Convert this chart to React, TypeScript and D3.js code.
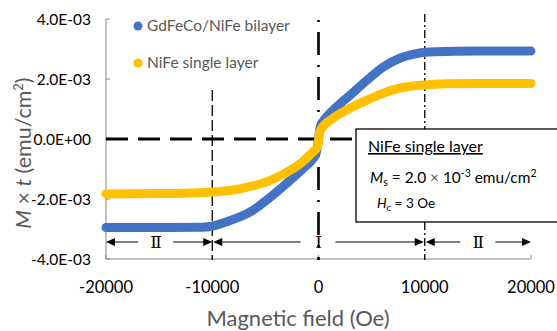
import React from "react";
import * as d3 from "d3";

// hysteresis curves, M x t in units of 1e-3 emu/cm2
const blueField = [-20000, -15000, -11000, -10000, -9000, -7700, -6100, -4600, -3000, -1400, -500, -200, 0, 200, 500, 1400, 3000, 4600, 6100, 7700, 9000, 10000, 11000, 15000, 20000];
const blueM = [-2.95, -2.95, -2.94, -2.91, -2.8, -2.64, -2.36, -1.96, -1.48, -0.97, -0.65, -0.45, 0, 0.45, 0.62, 0.97, 1.47, 1.97, 2.4, 2.7, 2.83, 2.89, 2.91, 2.93, 2.93];

const yellowField = [-20000, -15000, -12000, -10000, -8000, -6400, -4800, -3300, -1700, -500, -100, 100, 200, 1400, 3000, 4600, 6100, 7700, 9900, 12000, 15000, 20000];
const yellowM = [-1.83, -1.82, -1.8, -1.77, -1.7, -1.58, -1.42, -1.17, -0.82, -0.42, -0.27, 0.2, 0.3, 0.7, 1.03, 1.3, 1.53, 1.7, 1.8, 1.84, 1.85, 1.85];

const yTicks = [-4e-3, -2e-3, 0, 2e-3, 4e-3];
const yTickLabels = ["-4.0E-03", "-2.0E-03", "0.0E+00", "2.0E-03", "4.0E-03"];
const xTicks = [-20000, -10000, 0, 10000, 20000];

const regions = [
  { from: -20000, to: -10000, label: "Ⅱ" },
  { from: -10000, to: 10000, label: "Ⅰ" },
  { from: 10000, to: 20000, label: "Ⅱ" },
];

const series = [
  { name: "GdFeCo/NiFe bilayer", color: "#4472C4", field: blueField, m: blueM },
  { name: "NiFe single layer", color: "#FFC000", field: yellowField, m: yellowM },
];

const FONT = "Lato, 'Open Sans', sans-serif";

export default function App() {
  const W = 557, H = 331;
  const x = d3.scaleLinear().domain([-20000, 20000]).range([106, 531]);
  const y = d3.scaleLinear().domain([-4e-3, 4e-3]).range([259, 19]);

  const line = d3
    .line<[number, number]>()
    .x((d) => x(d[0]))
    .y((d) => y(d[1] * 1e-3))
    .curve(d3.curveMonotoneX);

  const arrowY = 242;
  const head = (tipX: number, dir: number) =>
    `M${tipX},${arrowY} L${tipX + dir * 9},${arrowY - 4} L${tipX + dir * 9},${arrowY + 4} Z`;

  return (
    <svg width={W} height={H} style={{ position: "fixed", left: 0, top: 0, background: "#fff" }} fontFamily={FONT}>
      {/* axes */}
      <line x1={106} x2={106} y1={19} y2={259} stroke="#868686" strokeWidth={1} />
      <line x1={106} x2={531} y1={259} y2={259} stroke="#868686" strokeWidth={1} />
      {yTicks.map((t) => (
        <line key={"yt" + t} x1={106} x2={110} y1={y(t)} y2={y(t)} stroke="#868686" />
      ))}
      {xTicks.map((t) => (
        <line key={"xt" + t} x1={x(t)} x2={x(t)} y1={259} y2={255} stroke="#868686" />
      ))}
      {yTicks.map((t, i) => (
        <text key={"yl" + t} x={91} y={y(t)} dy="0.36em" textAnchor="end" fontSize={15.5} fill="#000">
          {yTickLabels[i]}
        </text>
      ))}
      {xTicks.map((t) => (
        <text key={"xl" + t} x={x(t)} y={293} textAnchor="middle" fontSize={16.5} fill="#000">
          {t}
        </text>
      ))}
      <text x={298} y={326} textAnchor="middle" fontSize={22} fill="#595959">
        Magnetic field (Oe)
      </text>
      <text transform="translate(31,153) rotate(-90)" textAnchor="middle" fontSize={21.5} fill="#595959">
        <tspan fontStyle="italic">M</tspan>
        <tspan> × </tspan>
        <tspan fontStyle="italic">t</tspan>
        <tspan> (emu/cm</tspan>
        <tspan fontSize={13} dy={-8}>2</tspan>
        <tspan dy={8}>)</tspan>
      </text>

      {/* guide lines */}
      <line x1={x(-10000)} x2={x(-10000)} y1={90} y2={260} stroke="#000" strokeWidth={1.3} strokeDasharray="11,4" />
      <line x1={x(10000)} x2={x(10000)} y1={14} y2={260} stroke="#000" strokeWidth={1.3} strokeDasharray="8,3,2,3" />
      <line x1={x(0)} x2={x(0)} y1={20} y2={260} stroke="#000" strokeWidth={2.6} strokeDasharray="2,10,23,10" />
      <line x1={106} x2={360} y1={y(0)} y2={y(0)} stroke="#000" strokeWidth={3} strokeDasharray="22,10" />

      {/* curves */}
      {series.map((s) => (
        <path
          key={s.name}
          d={line(s.field.map((f, i) => [f, s.m[i]] as [number, number])) || ""}
          fill="none"
          stroke={s.color}
          strokeWidth={9}
          strokeLinecap="round"
          strokeLinejoin="round"
        />
      ))}

      {/* legend */}
      {series.map((s, i) => (
        <g key={"lg" + s.name} transform={`translate(138,${26 + i * 37})`}>
          <circle r={4.5} fill={s.color} />
          <text x={9} dy="0.35em" fontSize={15.5} fill="#595959">
            {s.name}
          </text>
        </g>
      ))}

      {/* region arrows */}
      {regions.map((r, i) => {
        const a = x(r.from) + (i === 0 ? 0 : 1);
        const b = x(r.to) - (i === 1 ? 1 : 0);
        const c = (a + b) / 2 - (i === 0 ? 3 : 0);
        return (
          <g key={"rg" + i}>
            <line x1={a + 8} x2={c - 18} y1={arrowY} y2={arrowY} stroke="#000" strokeWidth={1} />
            <line x1={c + 17} x2={b - 8} y1={arrowY} y2={arrowY} stroke="#000" strokeWidth={1} />
            <path d={head(a, 1)} fill="#000" />
            <path d={head(b, -1)} fill="#000" />
            <text x={c} y={arrowY} dy="0.36em" textAnchor="middle" fontSize={17} fontFamily="'DejaVu Serif', 'Liberation Serif', serif" fill="#000">
              {r.label}
            </text>
          </g>
        );
      })}

      {/* info box */}
      <rect x={356} y={129} width={210} height={93} fill="#fff" stroke="#000" strokeWidth={1.3} />
      <text x={368} y={152} fontSize={16} fill="#000" textDecoration="underline">
        NiFe single layer
      </text>
      <text x={370} y={183} fontSize={15.4} fill="#000">
        <tspan fontStyle="italic">M</tspan>
        <tspan fontSize={10.5} dy={3}>s</tspan>
        <tspan dy={-3}> = 2.0 </tspan>
        <tspan fill="#595959">×</tspan>
        <tspan> 10</tspan>
        <tspan fontSize={10.5} dy={-6}>-3</tspan>
        <tspan dy={6}> emu/cm</tspan>
        <tspan fontSize={10.5} dy={-6}>2</tspan>
      </text>
      <text x={377} y={208} fontSize={13.5} fill="#000">
        <tspan fontStyle="italic">H</tspan>
        <tspan fontSize={9.5} dy={3}>c</tspan>
        <tspan dy={-3}> = 3 Oe</tspan>
      </text>
    </svg>
  );
}
